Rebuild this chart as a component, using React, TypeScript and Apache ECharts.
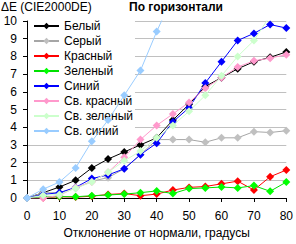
import React, { useEffect, useRef } from "react";
import * as echarts from "echarts";

// Deviation angles from the normal, degrees
const angles = [0, 5, 10, 15, 20, 25, 30, 35, 40, 45, 50, 55, 60, 65, 70, 75, 80];

// ΔE (CIE2000) per colour patch
const white = [0, 0.3, 0.62, 1.0, 1.7, 2.2, 2.6, 3.0, 3.4, 4.4, 5.3, 6.3, 6.8, 7.3, 7.7, 7.95, 8.25];
const gray = [0, 0.3, 0.3, 0.55, 0.95, 1.15, 1.65, 2.45, 3.3, 3.3, 3.3, 3.15, 3.4, 3.4, 3.75, 3.7, 3.8];
const red = [0, 0.02, 0.07, 0.05, 0.1, 0.2, 0.25, 0.13, 0.22, 0.45, 0.6, 0.65, 0.8, 0.95, 0.45, 1.2, 1.58];
const green = [0, 0.05, 0.08, 0.07, 0.13, 0.17, 0.22, 0.3, 0.4, 0.25, 0.53, 0.57, 0.62, 0.57, 0.7, 0.38, 0.9];
const blue = [0, 0.2, 0.3, 0.6, 1.1, 1.3, 1.65, 2.45, 3.1, 4.3, 5.1, 6.5, 7.7, 8.9, 9.3, 9.8, 9.6];
const lightRed = [0, 0.0, 0.15, 0.6, 0.9, 1.45, 2.3, 3.3, 4.1, 4.75, 5.4, 6.2, 6.8, 7.4, 7.75, 7.9, 8.1];
const lightGreen = [0, 0.15, 0.2, 0.55, 0.9, 1.45, 2.1, 2.65, 3.4, 4.1, 4.9, 5.8, 6.9, 8.0, 8.9, 10.3, 10.8];
const lightBlue = [0, 0.5, 0.9, 1.7, 3.2, 4.4, 5.8, 7.2, 9.4, 11.4];

const seriesNames = ["Белый", "Серый", "Красный", "Зеленый", "Синий", "Св. красный", "Св. зеленый", "Св. синий"];
const seriesData = [white, gray, red, green, blue, lightRed, lightGreen, lightBlue];
const lineColors = ["#000000", "#a6a6a6", "#ff0000", "#00e000", "#0000ff", "#ff99cc", "#ccffcc", "#99ccff"];
const markerColors = ["#000000", "#c0c0c0", "#ff0000", "#00ff00", "#0000ff", "#ff99cc", "#ccffcc", "#99ccff"];

const titleText = "По горизонтали";
const yName = "ΔE (CIE2000DE)";
const xName = "Отклонение от нормали, градусы";

const FONT = "'Liberation Sans', Arial, sans-serif";

export default function App() {
  const ref = useRef<HTMLDivElement>(null);

  useEffect(() => {
    if (!ref.current) return;
    const chart = echarts.init(ref.current, null, { renderer: "svg" });
    chart.setOption({
      animation: false,
      backgroundColor: "#ffffff",
      textStyle: { fontFamily: FONT },
      title: {
        text: titleText,
        left: 129,
        top: 1,
        padding: 0,
        textStyle: { fontFamily: FONT, fontSize: 12, fontWeight: "bold", color: "#000" },
      },
      graphic: [
        {
          type: "text",
          left: 1,
          top: 1,
          style: { text: yName, font: `12px ${FONT}`, fill: "#000" },
        },
      ],
      legend: {
        orient: "vertical",
        left: 28,
        top: 17,
        z: 1,
        backgroundColor: "#ffffff",
        padding: [2, 2, 2, 5],
        itemGap: 1,
        itemWidth: 25,
        itemHeight: 8,
        textStyle: { fontFamily: FONT, fontSize: 12, color: "#000", lineHeight: 14 },
        data: seriesNames,
      },
      grid: { left: 27, right: 6, top: 21, bottom: 41 },
      xAxis: {
        type: "value",
        min: 0,
        max: 80,
        interval: 10,
        name: xName,
        nameLocation: "middle",
        nameGap: 29,
        nameTextStyle: { fontFamily: FONT, fontSize: 12, color: "#000" },
        axisLine: { lineStyle: { color: "#000", width: 1 } },
        axisTick: { length: 4, lineStyle: { color: "#000" } },
        axisLabel: { fontFamily: FONT, fontSize: 12, color: "#000", margin: 12 },
        splitLine: { show: false },
      },
      yAxis: {
        type: "value",
        min: 0,
        max: 10,
        interval: 1,
        axisLine: { show: true, lineStyle: { color: "#000", width: 1 } },
        axisTick: { show: true, length: 4, lineStyle: { color: "#000" } },
        axisLabel: { fontFamily: FONT, fontSize: 12, color: "#000", margin: 10 },
        splitLine: { show: true, lineStyle: { color: "#c0c0c0", width: 1 } },
      },
      series: seriesNames.map((name, i) => ({
        name,
        type: "line",
        data: seriesData[i].map((v, k) => [angles[k], v]),
        symbol: "diamond",
        symbolSize: 8,
        clip: true,
        lineStyle: { color: lineColors[i], width: 1 },
        itemStyle: { color: markerColors[i] },
        z: 2 + i * 0.01,
      })),
    });
    return () => chart.dispose();
  }, []);

  return (
    <div
      ref={ref}
      style={{ position: "fixed", left: 0, top: 0, width: 296, height: 244 }}
    />
  );
}
